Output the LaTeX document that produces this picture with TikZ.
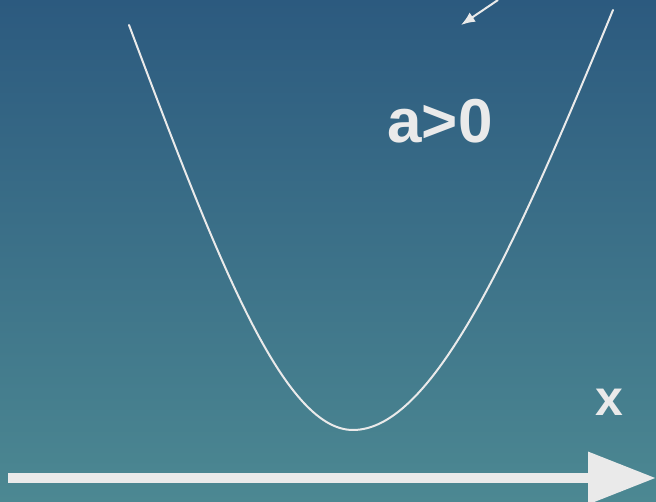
\documentclass[tikz,border=0pt]{standalone}
\usepackage{fontspec}
\setmainfont{Liberation Sans}
\usepackage{xcolor}
\usetikzlibrary{arrows.meta,calc,positioning}
\definecolor{SlideTop}{HTML}{2C5A7F}
\definecolor{SlideBottom}{HTML}{4C8892}
\definecolor{InkWhite}{HTML}{EAEAEA}
\tikzset{
  curvepath/.style={draw=InkWhite, line width=2pt, line cap=round, line join=round},
  axisarrow/.style={-{Triangle[length=68pt, width=50pt]}, draw=InkWhite, fill=InkWhite, line width=10pt},
  ptrarrow/.style={-{Latex[length=14pt, width=11pt]}, draw=InkWhite, line width=2pt},
  biglabel/.style={text=InkWhite, font=\bfseries\fontsize{62}{62}\selectfont, inner sep=0pt},
  axislabel/.style={text=InkWhite, font=\bfseries\fontsize{50}{50}\selectfont, inner sep=0pt}
}
\begin{document}
\begin{tikzpicture}[x=1pt, y=-1pt]
  \shade[top color=SlideTop, bottom color=SlideBottom] (0,0) rectangle (656,502);
  \useasboundingbox (0,0) rectangle (656,502);
  % parabola
  \draw[curvepath] (129,25) .. controls (217,259) and (283,430) .. (353,430)
    .. controls (433,430) and (514,250) .. (613,10);
  % labels
  \node[biglabel] (sign) at (440,121) {a>0};
  \node[axislabel] (xlabel) at (609,402) {x};
  % arrows
  \coordinate (ptrstart) at (498,0);
  \coordinate (ptrend) at (461,25);
  \draw[ptrarrow] (ptrstart) -- (ptrend);
  \coordinate (axstart) at (8,478);
  \coordinate (axend) at (656,478);
  \draw[axisarrow] (axstart) -- (axend);
\end{tikzpicture}
\end{document}
